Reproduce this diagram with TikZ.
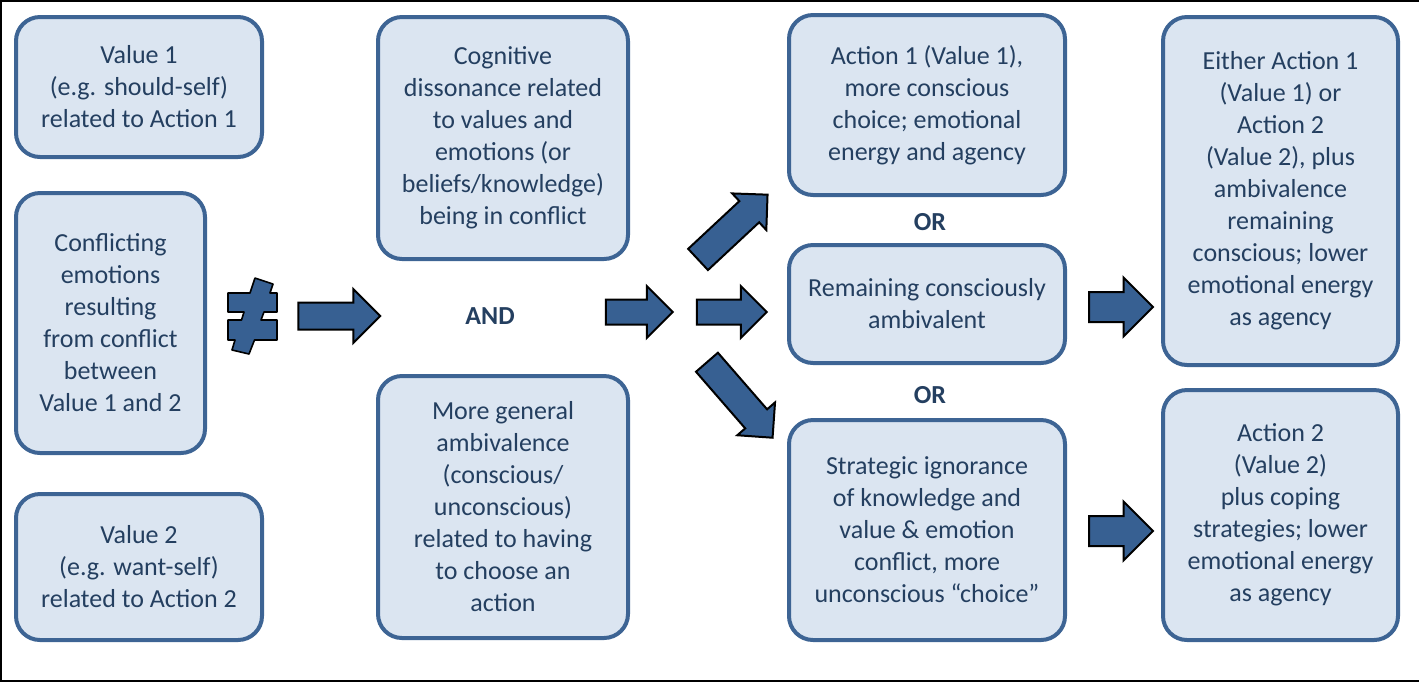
\documentclass[tikz,border=0pt]{standalone}
\usepackage{fontspec}
\setmainfont{Carlito}
\usetikzlibrary{shapes.arrows}

\definecolor{boxfill}{HTML}{DBE5F1}
\definecolor{boxline}{HTML}{3D6494}
\definecolor{arrowfill}{HTML}{376092}
\definecolor{txt}{HTML}{243F60}

\begin{document}
\begin{tikzpicture}[x=0.5pt, y=-0.5pt,
	valbox/.style={draw=boxline, fill=boxfill, line width=2pt, rounded corners=12pt,
		align=center, inner sep=2pt, text=txt, font=\fontsize{13}{16}\selectfont},
	blockarrow/.style={single arrow, draw=black, fill=arrowfill, line width=1pt,
		inner xsep=0pt},
	joiner/.style={text=txt, font=\fontsize{13}{16}\selectfont\bfseries}]
	\useasboundingbox (0,0) rectangle (1419,682);
	\draw[line width=1pt] (1420,1) -- (1,1) -- (1,681) -- (1420,681);

	% left column
	\node[valbox, minimum width=123pt, minimum height=70pt] (val1) at (139,87) {Value 1\\(e.g. should-self)\\related to Action 1};
	\node[valbox, minimum width=94.5pt, minimum height=130pt] (conflict) at (110.5,323) {Conflicting\\emotions\\resulting\\from conflict\\between\\Value 1 and 2};
	\node[valbox, minimum width=123pt, minimum height=73pt] (val2) at (139,567) {Value 2\\(e.g. want-self)\\related to Action 2};

	% not equal sign
	\draw[fill=arrowfill, line width=0.8pt, line join=round] (255,278) -- (273,284) -- (270,293) -- (277,293) -- (277,312) -- (264,312)
		-- (261,320) -- (277,320) -- (277,340) -- (254.5,340) -- (249,354) -- (232,350) -- (235,340) -- (228,340)
		-- (228,320) -- (241.5,320) -- (244,312) -- (228,312) -- (228,293) -- (250,293) -- cycle;

	% middle column
	\node[valbox, minimum width=125pt, minimum height=121pt] (cogn) at (503,138) {Cognitive\\dissonance related\\to values and\\emotions (or\\beliefs/knowledge)\\being in conflict};
	\node[joiner] (and) at (490,316) {AND};
	\node[valbox, minimum width=125pt, minimum height=131pt] (general) at (503,507) {More general\\ambivalence\\(conscious/\\unconscious)\\related to having\\to choose an\\action};

	% choices
	\node[valbox, minimum width=138pt, minimum height=90pt] (act1) at (927,105) {Action 1 (Value 1),\\more conscious\\choice; emotional\\energy and agency};
	\node[joiner] (or1) at (930,222) {OR};
	\node[valbox, minimum width=138pt, minimum height=59pt] (remain) at (927,304) {Remaining consciously\\ambivalent};
	\node[joiner] (or2) at (930,395) {OR};
	\node[valbox, minimum width=138pt, minimum height=110pt] (strat) at (927,530) {Strategic ignorance\\of knowledge and\\value \& emotion\\conflict, more\\unconscious “choice”};

	% outcomes
	\node[valbox, minimum width=117.5pt, minimum height=174pt] (either) at (1280.5,191) {Either Action 1\\(Value 1) or\\Action 2\\(Value 2), plus\\ambivalence\\remaining\\conscious; lower\\emotional energy\\as agency};
	\node[valbox, minimum width=117.5pt, minimum height=125pt] (act2) at (1280.5,515) {Action 2\\(Value 2)\\plus coping\\strategies; lower\\emotional energy\\as agency};

	% block arrows
	\node[blockarrow, minimum height=41pt, minimum width=26pt, inner ysep=6.25pt, single arrow head extend=6.75pt] (a1) at (332.5,316) {};
	\node[blockarrow, minimum height=33.5pt, minimum width=25pt, inner ysep=5.75pt, single arrow head extend=6.75pt] (a2) at (633,312) {};
	\node[blockarrow, minimum height=35pt, minimum width=25pt, inner ysep=5.75pt, single arrow head extend=6.75pt] (a3) at (725.5,312) {};
	\node[blockarrow, minimum height=47.5pt, minimum width=24pt, inner ysep=6.75pt, single arrow head extend=5.25pt, rotate=43] (aup) at (727.5,232) {};
	\node[blockarrow, minimum height=50pt, minimum width=24pt, inner ysep=6.75pt, single arrow head extend=5.25pt, rotate=-49] (adown) at (735,394.5) {};
	\node[blockarrow, minimum height=32pt, minimum width=28.5pt, inner ysep=7pt, single arrow head extend=7.25pt] (a4) at (1113.5,307) {};
	\node[blockarrow, minimum height=32pt, minimum width=28.5pt, inner ysep=7pt, single arrow head extend=7.25pt] (a5) at (1113.5,531) {};
\end{tikzpicture}
\end{document}
